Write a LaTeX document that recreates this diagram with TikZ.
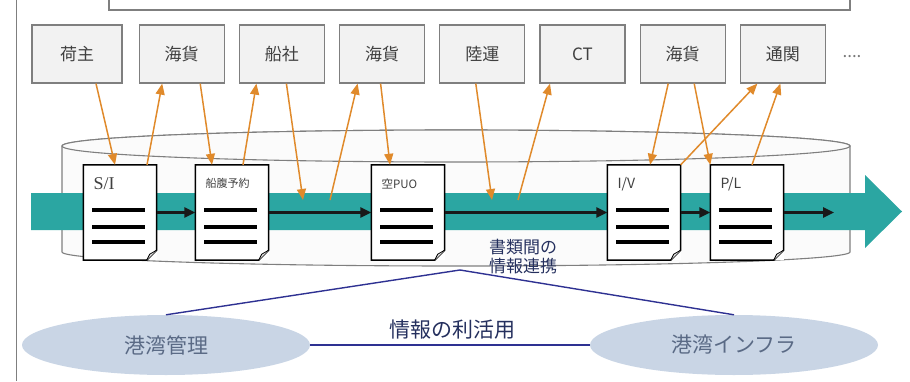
\documentclass[tikz,border=0pt]{standalone}
\usepackage{fontspec}
\setmainfont{Noto Sans CJK JP}
\newfontfamily\docserif{Liberation Serif}
\usetikzlibrary{positioning,arrows.meta,calc,shapes.geometric}
\definecolor{frame}{HTML}{7F7F7F}
\definecolor{boxfill}{HTML}{F2F2F2}
\definecolor{ink}{HTML}{404040}
\definecolor{teal}{HTML}{2BA6A2}
\definecolor{orange}{HTML}{E08A2B}
\definecolor{navy}{HTML}{2E3192}
\definecolor{navyink}{HTML}{25305E}
\definecolor{mist}{HTML}{C9D5E5}
\definecolor{slate}{HTML}{5A6A85}
\definecolor{cylfill}{HTML}{FBFBFB}
\tikzset{
  party/.style={draw=frame, line width=1.2pt, fill=boxfill, minimum width=85pt,
    minimum height=58pt, inner sep=0pt, text=ink, font=\fontsize{17pt}{20pt}\selectfont},
  doc/.style={fill=white, minimum width=73pt, minimum height=95pt, inner sep=0pt},
  doclab/.style={anchor=west, text=ink, inner sep=0pt},
  bar/.style={line width=3.2pt, color=black},
  flow/.style={-{Triangle[length=11pt,width=10pt]}, line width=2.6pt, color=black!90},
  oarr/.style={-{Triangle[length=11pt,width=9pt]}, line width=1.5pt, color=orange},
  link/.style={line width=1.4pt, color=navy},
  cyl/.style={draw=frame, line width=1.1pt, fill=cylfill},
  port/.style={ellipse, fill=mist, minimum width=288pt, minimum height=60pt,
    inner sep=0pt, text=slate, font=\fontsize{21pt}{24pt}\selectfont},
}
% one sheet: name, x, label
\newcommand{\docsheet}[3]{%
  \node[doc] (#1) at (#2,168.5) {};
  \draw[line width=1.5pt] (#1.north west) -- (#1.north east) -- ($(#1.south east)+(0,10)$)
    -- ($(#1.south east)+(-10,0)$) -- (#1.south west) -- cycle;
  \draw[line width=0.8pt, fill=black!10] ($(#1.south east)+(0,10)$) -- ($(#1.south east)+(-7,6)$)
    -- ($(#1.south east)+(-10,0)$);
  \foreach \dy in {2.5,-14.5,-29.5}
    \draw[bar] ($(#1.west)+(9,\dy)$) -- ($(#1.east)+(-12,\dy)$);
  \node[doclab] at ($(#1.north west)+(10,-19)$) {#3};
}

\begin{document}
\begin{tikzpicture}[x=1pt, y=1pt]
    \useasboundingbox (0,0) rectangle (910,381);
    \clip (0,0) rectangle (910,381);
    \draw[frame, line width=1pt] (16,0) -- (16,381);
    \draw[frame, line width=1.3pt, fill=white] (109,371) rectangle (850,400);

    % players
    \node[party, minimum width=90pt] (shipper) at (77,327) {荷主};
    \node[party, right=16pt of shipper] (fwd1) {海貨};
    \node[party, right=14pt of fwd1] (carrier) {船社};
    \node[party, right=14pt of carrier] (fwd2) {海貨};
    \node[party, right=14pt of fwd2] (truck) {陸運};
    \node[party, right=14pt of truck] (ct) {CT};
    \node[party, right=14pt of ct] (fwd3) {海貨};
    \node[party, right=14pt of fwd3] (customs) {通関};
    \node[text=ink!70, font=\fontsize{17pt}{20pt}\selectfont] (more) at (852,324) {....};

    % platform
    \filldraw[cyl] (62,235) -- (62,129) arc[start angle=180, end angle=360, x radius=394, y radius=14]
      -- (850,235) arc[start angle=0, end angle=180, x radius=394, y radius=16] -- cycle;
    \draw[cyl] (456,235) ellipse[x radius=394, y radius=16];
    \fill[teal] (31,151) -- (865,151) -- (865,133) -- (902,169.5) -- (865,206) -- (865,188)
      -- (31,188) -- cycle;

    \docsheet{si}{120}{\docserif\fontsize{18pt}{20pt}\selectfont S/I}
    \docsheet{booking}{232}{\fontsize{11pt}{13pt}\selectfont 船腹予約}
    \docsheet{puo}{408}{\fontsize{11.5pt}{13pt}\selectfont 空PUO}
    \docsheet{iv}{644}{\fontsize{14pt}{16pt}\selectfont I/V}
    \docsheet{pl}{747}{\fontsize{14pt}{16pt}\selectfont P/L}

    \coordinate (flowend) at (834,168.5);
    \draw[flow] (si.east) -- (booking.west);
    \draw[flow] (booking.east) -- (puo.west);
    \draw[flow] (puo.east) -- (iv.west);
    \draw[flow] (iv.east) -- (pl.west);
    \draw[flow] (pl.east) -- (flowend);

    % exchanges between players and sheets
    \coordinate (bp1) at (303,181);
    \coordinate (bp2) at (330,181);
    \coordinate (bp3) at (492,181);
    \coordinate (bp4) at (518,181);
    \draw[oarr] ($(shipper.south)+(19,0)$) -- ($(si.north)+(-5,0)$);
    \draw[oarr] ($(si.north)+(27,0)$) -- ($(fwd1.south)+(-19.5,0)$);
    \draw[oarr] ($(fwd1.south)+(18.5,0)$) -- ($(booking.north)+(-20,0)$);
    \draw[oarr] ($(booking.north)+(11,0)$) -- ($(carrier.south)+(-25.5,0)$);
    \draw[oarr] ($(carrier.south)+(4.5,0)$) -- (bp1);
    \draw[oarr] (bp2) -- ($(fwd2.south)+(-24.5,0)$);
    \draw[oarr] ($(fwd2.south)+(-1.5,0)$) -- ($(puo.north)+(-18,0)$);
    \draw[oarr] ($(truck.south)+(-6.5,0)$) -- (bp3);
    \draw[oarr] (bp4) -- ($(ct.south)+(-32.5,0)$);
    \draw[oarr] ($(fwd3.south)+(-14.5,0)$) -- ($(iv.north)+(6,0)$);
    \draw[oarr] ($(fwd3.south)+(11.5,0)$) -- (pl.north west);
    \draw[oarr] (iv.north east) -- ($(customs.south)+(-25.5,0)$);
    \draw[oarr] ($(pl.north)+(5,0)$) -- ($(customs.south)+(-2.5,0)$);

    % use of the information
    \node[text=navyink, align=center, font=\fontsize{17pt}{19pt}\selectfont] (xref) at (523,124.5) {書類間の\\情報連携};
    \node[port] (kanri) at (166,36) {港湾管理};
    \node[port] (infra) at (734,36) {港湾インフラ};
    \coordinate (hub) at (460,111);
    \draw[link] (kanri.north) -- (hub) -- (infra.north);
    \draw[link] (kanri.east) -- (infra.west);
    \node[text=navyink, font=\fontsize{21pt}{24pt}\selectfont] (use) at (452,51) {情報の利活用};
  \end{tikzpicture}
\end{document}
